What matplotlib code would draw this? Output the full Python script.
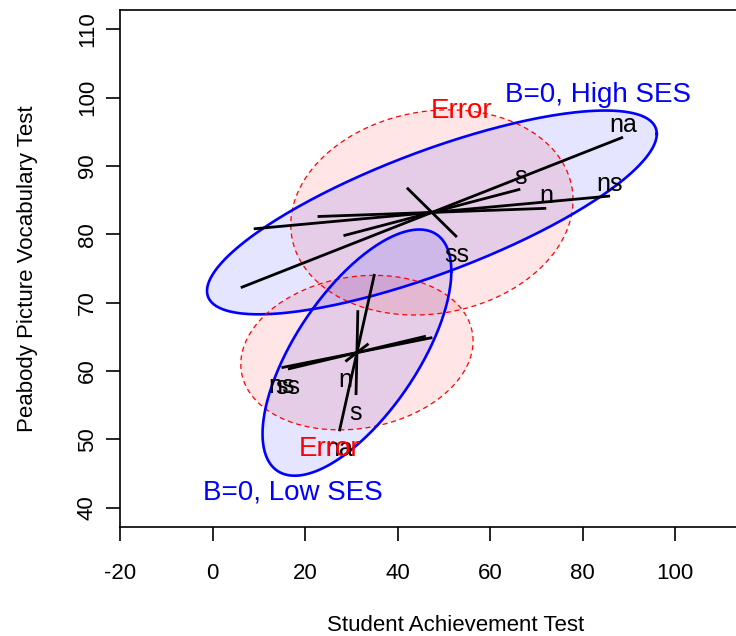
import numpy as np
import matplotlib.pyplot as plt

plt.rcParams['font.family'] = ['Liberation Sans', 'DejaVu Sans']
plt.rcParams['axes.unicode_minus'] = False

# group means (SAT, PPVT)
centre_high = (47.4, 83.2)
centre_low = (31.2, 62.7)

# ellipse shapes: sd of x, sd of y, correlation
err_high = [30.5, 15.0, 0.12]
hyp_high = [48.6, 14.9, 0.77]
err_low = [25.1, 11.3, 0.15]
hyp_low = [20.4, 18.0, 0.66]

# rank-1 hypothesis terms: half-length vectors from the centre
terms_high = ['na', 's', 'n', 'ns', 'ss']
dx_high = [41.3, 19.1, 24.7, 38.5, 5.4]
dy_high = [11.0, 3.4, 0.6, 2.4, -3.6]

terms_low = ['na', 's', 'n', 'ns', 'ss']
dx_low = [3.8, 0.2, 2.5, 16.3, 14.9]
dy_low = [11.5, 6.2, 1.3, 2.2, 2.4]


def ellipse(c, sx, sy, r, n=300):
    t = np.linspace(0, 2 * np.pi, n)
    x = c[0] + sx * np.cos(t)
    y = c[1] + sy * (r * np.cos(t) + np.sqrt(1 - r * r) * np.sin(t))
    return x, y


def draw_group(ax, c, err, hyp, terms, dx, dy, label_sign):
    ex, ey = ellipse(c, *err)
    ax.fill(ex, ey, color='red', alpha=0.1, lw=0)
    ax.plot(ex, ey, color='red', lw=0.9, ls=(0, (4, 3)))
    hx, hy = ellipse(c, *hyp)
    ax.fill(hx, hy, color='blue', alpha=0.1, lw=0)
    ax.plot(hx, hy, color='blue', lw=1.9)
    for name, u, v in zip(terms, dx, dy):
        ax.plot([c[0] - u, c[0] + u], [c[1] - v, c[1] + v], color='black', lw=2.0,
                solid_capstyle='butt')
        # label sits at the end nearest the group label
        if label_sign > 0:
            px, py = (c[0] + u, c[1] + v)
            off = 9 if v >= 0 else -13
        else:
            px, py = (c[0] - u, c[1] - v)
            off = -13
        ax.annotate(name, (px, py), xytext=(0, off), textcoords='offset points',
                    ha='center', va='center', fontsize=18, color='black')


fig = plt.figure(figsize=(7.36, 6.36), dpi=100)
ax = fig.add_axes([120 / 736, 109 / 636, 671 / 736, 517 / 636])

draw_group(ax, centre_high, err_high, hyp_high, terms_high, dx_high, dy_high, 1)
draw_group(ax, centre_low, err_low, hyp_low, terms_low, dx_low, dy_low, -1)

ax.text(53.8, 98.1, 'Error', color='red', fontsize=20, ha='center', va='center')
ax.text(83.4, 100.3, 'B=0, High SES', color='blue', fontsize=20, ha='center', va='center')
ax.text(25.3, 48.6, 'Error', color='red', fontsize=20, ha='center', va='center')
ax.text(17.3, 42.2, 'B=0, Low SES', color='blue', fontsize=20, ha='center', va='center')

ax.set_xlim(-20, 125)
ax.set_ylim(37.2, 112.8)
ax.set_xticks(np.arange(-20, 101, 20))
ax.set_yticks(np.arange(40, 111, 10))
ax.set_yticklabels([str(v) for v in range(40, 111, 10)], rotation=90, va='center')
ax.tick_params(direction='out', length=10, width=1.2, labelsize=16)
ax.tick_params(axis='x', pad=16)
ax.tick_params(axis='y', pad=6)
for s in ax.spines.values():
    s.set_linewidth(1.2)

ax.set_xlabel('Student Achievement Test', fontsize=16, labelpad=22)
ax.set_ylabel('Peabody Picture Vocabulary Test', fontsize=16, labelpad=28)

fig.savefig('out.png', dpi=100)
